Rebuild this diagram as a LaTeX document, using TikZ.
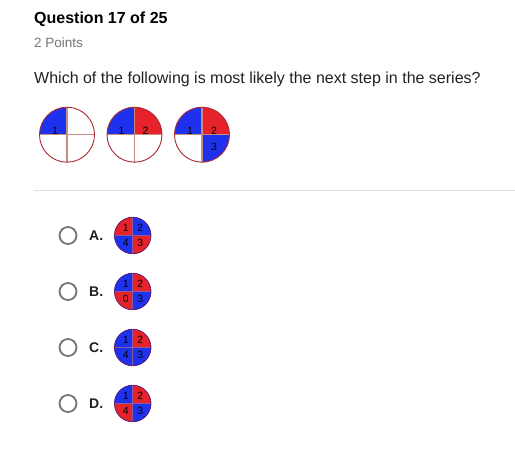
\documentclass[tikz,border=0pt]{standalone}
\usepackage{fontspec}
\setmainfont{Liberation Sans}
\usetikzlibrary{calc}
\definecolor{qblue}{RGB}{30,50,238}
\definecolor{qred}{RGB}{230,35,42}
\definecolor{rimred}{RGB}{170,40,50}
\definecolor{crossline}{RGB}{200,140,130}
\definecolor{rimdark}{RGB}{90,20,110}
\definecolor{greytext}{RGB}{117,117,117}
\definecolor{bodytext}{RGB}{33,33,33}
\tikzstyle{title} = [anchor=base west, inner sep=0pt, font=\fontsize{16}{19}\selectfont\bfseries, text=black]
\tikzstyle{points} = [anchor=base west, inner sep=0pt, font=\fontsize{13.5}{16}\selectfont, text=greytext]
\tikzstyle{prompt} = [anchor=base west, inner sep=0pt, font=\fontsize{16}{19}\selectfont, text=bodytext]
\tikzstyle{letter} = [anchor=base west, inner sep=0pt, font=\fontsize{14}{17}\selectfont\bfseries, text=bodytext]
\tikzstyle{num} = [inner sep=0pt, font=\fontsize{10.5}{12}\selectfont, text=black]
\tikzstyle{radio} = [circle, draw=greytext, line width=1.8pt, minimum size=17pt, inner sep=0pt]
\tikzstyle{seriescross} = [crossline, line width=1.2pt]
\tikzstyle{seriesrim} = [rimred, line width=0.9pt]
\tikzstyle{optioncross} = [rimdark!70, line width=0.5pt]
\tikzstyle{optionrim} = [rimdark, line width=0.7pt]

% quadrant circle: centre, radius, kind (series/option), list of start angle/colour/label/dx/dy
\newcommand{\quadcircle}[4]{%
  \foreach \s/\c/\l/\dx/\dy in {#4}{
    \fill[\c] (#1) -- ++(\s:#2) arc[start angle=\s, end angle=\s+90, radius=#2] -- cycle;
  }
  \draw[#3cross] ($(#1)+(-#2,0)$) -- ($(#1)+(#2,0)$);
  \draw[#3cross] ($(#1)+(0,#2)$) -- ($(#1)+(0,-#2)$);
  \draw[#3rim] (#1) circle[radius=#2];
  \foreach \s/\c/\l/\dx/\dy in {#4}{
    \node[num] at ($(#1)+(\dx,\dy)$) {\l};
  }
}

\begin{document}
\begin{tikzpicture}[x=1pt, y=1pt]
  \useasboundingbox[fill=white] (0,0) rectangle (515,-458);

  % header
  \node[title] (head) at (34,-23) {Question 17 of 25};
  \node[points] (pts) at (34,-47.7) {2 Points};
  \node[prompt] (ask) at (34,-83.3) {Which of the following is most likely the next step in the series?};

  % the series
  \coordinate (s1) at (67,-134.7);
  \coordinate (s2) at (134.5,-134.7);
  \coordinate (s3) at (202,-134.7);
  \quadcircle{s1}{27.5}{series}{90/qblue/1/-12/4}
  \quadcircle{s2}{27.5}{series}{90/qblue/1/-13/4, 0/qred/2/11/4}
  \quadcircle{s3}{27.5}{series}{90/qblue/1/-12/4, 0/qred/2/12/4, 270/qblue/3/12/-12}

  % divider
  \draw[black!12, line width=1pt] (34,-190) -- (515,-190);

  % answer options
  \foreach \y/\t in {235.5/A., 291.5/B., 347.5/C., 403.5/D.}{
    \node[radio] (r\t) at (68,-\y) {};
    \node[letter] (l\t) at (89,-\y-5) {\t};
  }
  \coordinate (oa) at (132.7,-235.5);
  \coordinate (ob) at (132.7,-291.5);
  \coordinate (oc) at (132.7,-347.5);
  \coordinate (od) at (132.7,-403.5);
  \quadcircle{oa}{18.3}{option}{90/qred/1/-7/7.5, 0/qblue/2/7.5/7.5, 270/qred/3/7.5/-7, 180/qblue/4/-7/-7}
  \quadcircle{ob}{18.3}{option}{90/qblue/1/-7/7.5, 0/qred/2/7.5/7.5, 270/qblue/3/7.5/-7, 180/qred/0/-7/-7}
  \quadcircle{oc}{18.3}{option}{90/qblue/1/-7/7.5, 0/qred/2/7.5/7.5, 270/qblue/3/7.5/-7, 180/qblue/4/-7/-7}
  \quadcircle{od}{18.3}{option}{90/qblue/1/-7/7.5, 0/qred/2/7.5/7.5, 270/qblue/3/7.5/-7, 180/qred/4/-7/-7}
\end{tikzpicture}
\end{document}
